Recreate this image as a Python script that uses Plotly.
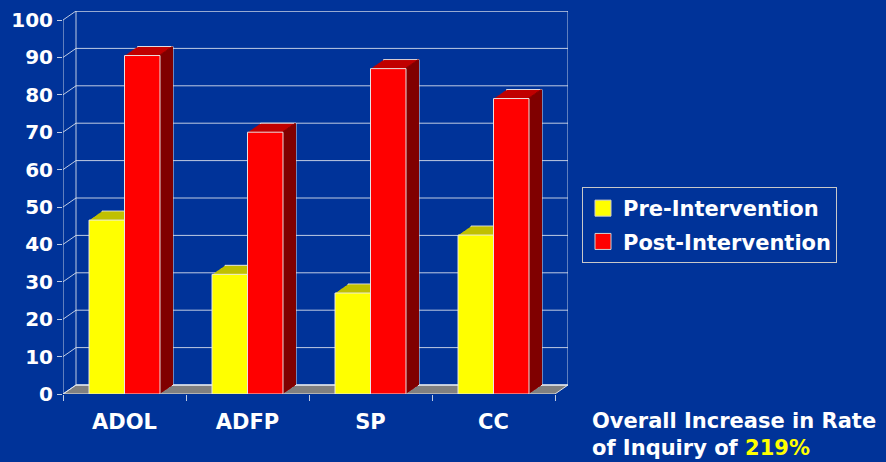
import plotly.graph_objects as go

# ---------------- data ----------------
categories = ["ADOL", "ADFP", "SP", "CC"]
series_names = ["Pre-Intervention", "Post-Intervention"]
pre_values = [46.5, 32, 27, 42.5]
post_values = [90.5, 70, 87, 79]
y_ticks = [0, 10, 20, 30, 40, 50, 60, 70, 80, 90, 100]
note_line1 = "Overall Increase in Rate"
note_line2 = "of Inquiry of "
note_value = "219%"

# ---------------- styling / geometry ----------------
W, H = 886, 462
L, R, B, T = 63, 568, 394, 11          # plot area in pixels
DX, DY = 13, 9                          # 3-D depth offset in pixels
NSTEP = 13                              # depth rendered as stacked 1px layers
cat_px = (R - L - DX) / len(categories)
unit_px = (B - T - DY) / 100.0
dxu = DX / cat_px
dyu = DY / unit_px
GROUP_W = 0.577
BAR_W = GROUP_W / 2
offsets = [-GROUP_W / 2, 0.0]


def px_x(px):
    return (px - L) / (R - L)


def px_y(py):
    return (B - py) / (B - T)


BG = "#003399"
FONT = "DejaVu Sans"
front_cols = ["#FFFF00", "#FF0000"]
top_cols = ["#C0C000", "#C00000"]
side_cols = ["#808000", "#800000"]
EDGE = "rgba(235,235,235,0.95)"
GRID = "rgba(225,230,240,0.85)"
values = [pre_values, post_values]

fig = go.Figure()

# depth layers, farthest first
for k in range(NSTEP, 0, -1):
    sx = dxu * k / NSTEP
    sy = dyu * k / NSTEP
    psx = dxu * (k - 1) / NSTEP
    for i in range(2):
        line = dict(color=EDGE, width=1) if k == NSTEP else dict(width=0)
        fig.add_trace(go.Bar(x=categories, y=values[i], base=sy,
                             offset=offsets[i] + sx, width=BAR_W,
                             marker=dict(color=top_cols[i], line=line),
                             showlegend=False, hoverinfo="skip"))
        fig.add_trace(go.Bar(x=categories, y=values[i], base=sy,
                             offset=offsets[i] + BAR_W + psx, width=sx - psx,
                             marker=dict(color=side_cols[i], line=dict(width=0)),
                             showlegend=False, hoverinfo="skip"))
# front faces
for i in range(2):
    fig.add_trace(go.Bar(x=categories, y=values[i], offset=offsets[i], width=BAR_W,
                         name=series_names[i],
                         marker=dict(color=front_cols[i], line=dict(color=EDGE, width=1)),
                         showlegend=False))
# legend entries
for i in range(2):
    fig.add_trace(go.Scatter(x=[None], y=[None], mode="markers",
                             name=series_names[i], legendgroup=series_names[i],
                             marker=dict(symbol="square", size=16, color=front_cols[i],
                                         line=dict(color="#D0D0D0", width=1))))

shapes = []
# floor
shapes.append(dict(type="path", xref="x", yref="y", layer="below",
                   path=f"M -0.5,0 L 3.5,0 L {3.5+dxu},{dyu} L {-0.5+dxu},{dyu} Z",
                   fillcolor="#808080", line=dict(color=EDGE, width=1)))
# back wall grid + left wall diagonals
for v in y_ticks:
    shapes.append(dict(type="line", xref="x", yref="y", layer="below",
                       x0=-0.5 + dxu, x1=3.5 + dxu, y0=v + dyu, y1=v + dyu,
                       line=dict(color=GRID, width=1)))
    shapes.append(dict(type="line", xref="x", yref="y", layer="below",
                       x0=-0.5, y0=v, x1=-0.5 + dxu, y1=v + dyu, line=dict(color=GRID, width=1)))
# back wall frame
shapes.append(dict(type="rect", xref="x", yref="y", layer="below",
                   x0=-0.5 + dxu, x1=3.5 + dxu, y0=dyu, y1=100 + dyu,
                   line=dict(color=GRID, width=1)))
# front vertical axis line
shapes.append(dict(type="line", xref="x", yref="y", layer="below",
                   x0=-0.5, x1=-0.5, y0=0, y1=100, line=dict(color=GRID, width=1)))

fig.update_layout(
    width=W, height=H,
    margin=dict(l=L, r=W - R, t=T, b=H - B, autoexpand=False),
    paper_bgcolor=BG, plot_bgcolor="rgba(0,0,0,0)",
    barmode="overlay",
    xaxis=dict(range=[-0.5, 3.5 + dxu],
               showgrid=False, zeroline=False, showline=False,
               tickson="boundaries", ticks="outside", ticklen=6, tickcolor=GRID,
               ticklabelstandoff=13,
               tickfont=dict(family=FONT, size=21, color="white", weight="bold")),
    yaxis=dict(range=[0, 100 + dyu],
               showgrid=False, zeroline=False, showline=False,
               tickvals=y_ticks, ticks="outside", ticklen=5, tickcolor=GRID,
               tickfont=dict(family=FONT, size=20, color="white", weight="bold")),
    legend=dict(x=px_x(582), y=px_y(187), xanchor="left", yanchor="top",
                bgcolor="rgba(0,0,0,0)", bordercolor="#C8C8C8", borderwidth=1,
                tracegroupgap=3,
                font=dict(family=FONT, size=21, color="white", weight="bold")),
    shapes=shapes,
    annotations=[dict(xref="paper", yref="paper", x=px_x(590), y=px_y(434),
                      xanchor="left", yanchor="middle", align="left", showarrow=False,
                      text=f"{note_line1}<br>{note_line2}<span style='color:#FFFF00'>{note_value}</span>",
                      font=dict(family=FONT, size=21, color="white", weight="bold"))],
)

fig.write_html("out.html", config={"displayModeBar": False},
               post_script="document.body.style.margin='0';document.body.style.overflow='hidden';")
